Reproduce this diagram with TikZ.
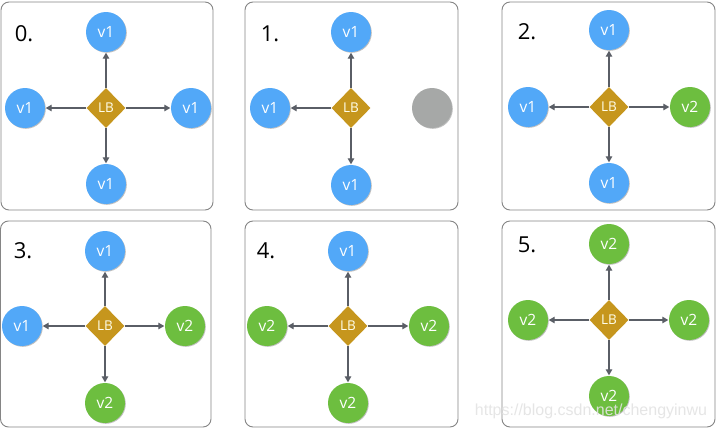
\documentclass[tikz,border=0pt]{standalone}
\usepackage{fontspec}
\setmainfont{Open Sans}
\newfontfamily\wmfont{Liberation Sans}
\usetikzlibrary{shapes.geometric,arrows.meta,shadows}
\definecolor{vblue}{HTML}{52A8F8}
\definecolor{vgreen}{HTML}{6DBE3F}
\definecolor{vgrey}{HTML}{A6A8A7}
\definecolor{lbgold}{HTML}{C6961D}
\definecolor{arrowgrey}{HTML}{5A5E66}
\definecolor{boxgrey}{HTML}{858585}
\tikzset{
  panelbox/.style={draw=boxgrey, line width=0.9pt, rounded corners=8pt, fill=white},
  vnode/.style={circle, minimum size=40pt, inner sep=0pt, text=white,
    font=\fontsize{15.5}{15.5}\selectfont,
    drop shadow={shadow xshift=0.8pt, shadow yshift=-0.8pt, opacity=0.25, fill=black}},
  vone/.style={vnode, fill=vblue},
  vtwo/.style={vnode, fill=vgreen},
  vdown/.style={vnode, fill=vgrey},
  lbnode/.style={diamond, fill=lbgold, minimum width=39pt, minimum height=40pt,
    inner sep=0pt, text=white!92!yellow, font=\fontsize{13.5}{13.5}\selectfont},
  steplabel/.style={font=\fontsize{22}{22}\selectfont, text=black, inner sep=0pt},
  link/.style={draw=arrowgrey, line width=1.1pt, -{Triangle[length=6pt,width=6.5pt]}, shorten >=0.5pt}
}
\begin{document}
\begin{tikzpicture}[x=1pt,y=-1pt]
\useasboundingbox (0,0) rectangle (716,429);
% boxes
\draw[panelbox] (1,2) rectangle (213,210);
\draw[panelbox] (245,2) rectangle (458,210);
\draw[panelbox] (502,2) rectangle (715,210);
\draw[panelbox] (0.5,221) rectangle (211,427);
\draw[panelbox] (245,221) rectangle (458,427);
\draw[panelbox] (502,221) rectangle (715,427);

% panel 0
\node[steplabel] (l0) at (24,34) {0.};
\node[lbnode] (lb0) at (106,108) {LB};
\node[vone] (t0) at (106,32) {v1};
\node[vone] (w0) at (25,108) {v1};
\node[vone] (e0) at (191,108) {v1};
\node[vone] (s0) at (106,184) {v1};
\draw[link] (lb0) -- (t0);
\draw[link] (lb0) -- (w0);
\draw[link] (lb0) -- (e0);
\draw[link] (lb0) -- (s0);

% panel 1
\node[steplabel] (l1) at (270,34) {1.};
\node[lbnode] (lb1) at (351,108) {LB};
\node[vone] (t1) at (351,32) {v1};
\node[vone] (w1) at (270,108) {v1};
\node[vdown] (e1) at (432,108) {};
\node[vone] (s1) at (351,185) {v1};
\draw[link] (lb1) -- (t1);
\draw[link] (lb1) -- (w1);
\draw[link] (lb1) -- (s1);

% panel 2
\node[steplabel] (l2) at (527,32) {2.};
\node[lbnode] (lb2) at (609,107) {LB};
\node[vone] (t2) at (609,30) {v1};
\node[vone] (w2) at (528,107) {v1};
\node[vtwo] (e2) at (690,107) {v2};
\node[vone] (s2) at (609,183) {v1};
\draw[link] (lb2) -- (t2);
\draw[link] (lb2) -- (w2);
\draw[link] (lb2) -- (e2);
\draw[link] (lb2) -- (s2);

% panel 3
\node[steplabel] (l3) at (23,251) {3.};
\node[lbnode] (lb3) at (105,326) {LB};
\node[vone] (t3) at (105,251) {v1};
\node[vone] (w3) at (22,326) {v1};
\node[vtwo] (e3) at (185,326) {v2};
\node[vtwo] (s3) at (105,403) {v2};
\draw[link] (lb3) -- (t3);
\draw[link] (lb3) -- (w3);
\draw[link] (lb3) -- (e3);
\draw[link] (lb3) -- (s3);

% panel 4
\node[steplabel] (l4) at (266,251) {4.};
\node[lbnode] (lb4) at (348,326) {LB};
\node[vone] (t4) at (348,251) {v1};
\node[vtwo] (w4) at (267,326) {v2};
\node[vtwo] (e4) at (429,326) {v2};
\node[vtwo] (s4) at (348,403) {v2};
\draw[link] (lb4) -- (t4);
\draw[link] (lb4) -- (w4);
\draw[link] (lb4) -- (e4);
\draw[link] (lb4) -- (s4);

% panel 5
\node[steplabel] (l5) at (527,245) {5.};
\node[lbnode] (lb5) at (609,320) {LB};
\node[vtwo] (t5) at (609,244) {v2};
\node[vtwo] (w5) at (528,320) {v2};
\node[vtwo] (e5) at (689,320) {v2};
\node[vtwo] (s5) at (609,396) {v2};
\draw[link] (lb5) -- (t5);
\draw[link] (lb5) -- (w5);
\draw[link] (lb5) -- (e5);
\draw[link] (lb5) -- (s5);

% watermark
\node[font=\wmfont\fontsize{16}{16}\selectfont, text=white!78!gray, text opacity=0.9, inner sep=0pt] (wm) at (591,411) {https://blog.csdn.net/chengyinwu};
\end{tikzpicture}
\end{document}
